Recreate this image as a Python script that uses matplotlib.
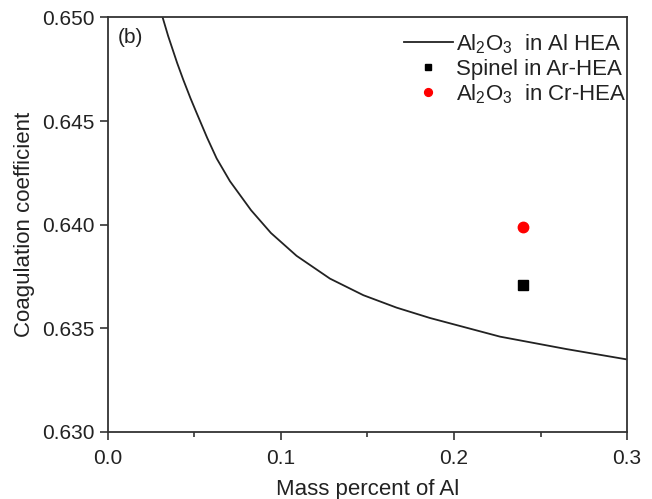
import matplotlib
matplotlib.use("Agg")
import matplotlib.pyplot as plt
from matplotlib.ticker import MultipleLocator

plt.rcParams['font.family'] = ['Liberation Sans', 'DejaVu Sans']
plt.rcParams['mathtext.fontset'] = 'custom'
plt.rcParams['mathtext.rm'] = 'Liberation Sans'

# curve: Al2O3 in Al HEA
x_curve = [0.0316, 0.0348, 0.0400, 0.0435, 0.0477, 0.0512, 0.0573, 0.0628, 0.0705,
           0.0827, 0.0942, 0.109, 0.1283, 0.1476, 0.1668, 0.1861, 0.2266, 0.265, 0.300]
y_curve = [0.6500, 0.6491, 0.6478, 0.6470, 0.6461, 0.6454, 0.6442, 0.6432, 0.6421,
           0.6407, 0.6396, 0.6385, 0.6374, 0.6366, 0.6360, 0.6355, 0.6346, 0.6340, 0.6335]

# single points
x_spinel = [0.240]
y_spinel = [0.6371]
x_cr = [0.240]
y_cr = [0.6399]

fig = plt.figure(figsize=(6.52, 4.99), dpi=100)
ax = fig.add_axes([0.1656, 0.1343, 0.7961, 0.8307])

ax.plot(x_curve, y_curve, color='#222222', lw=1.3,
        label=r'$\mathrm{Al_2O_3}$  in Al HEA')
ax.plot(x_spinel, y_spinel, 's', color='black', ms=6.5, ls='none',
        label='Spinel in Ar-HEA')
ax.plot(x_cr, y_cr, 'o', color='red', ms=7.5, ls='none',
        label=r'$\mathrm{Al_2O_3}$  in Cr-HEA')

ax.set_xlim(0, 0.3)
ax.set_ylim(0.630, 0.650)
ax.xaxis.set_major_locator(MultipleLocator(0.1))
ax.xaxis.set_minor_locator(MultipleLocator(0.05))
ax.yaxis.set_major_locator(MultipleLocator(0.005))
ax.xaxis.set_major_formatter(plt.FormatStrFormatter('%.1f'))
ax.yaxis.set_major_formatter(plt.FormatStrFormatter('%.3f'))
ax.tick_params(axis='both', which='major', direction='out', length=6, width=1.2,
               labelsize=15, colors='#333333', labelcolor='#222222')
ax.tick_params(axis='x', which='major', pad=6)
ax.tick_params(axis='x', which='minor', direction='out', length=3.5, width=1.2,
               colors='#333333')
for s in ax.spines.values():
    s.set_linewidth(1.3)
    s.set_color('#333333')

ax.set_xlabel('Mass percent of Al', fontsize=16, color='#222222', labelpad=8)
ax.set_ylabel('Coagulation coefficient', fontsize=16, color='#222222', labelpad=5)

ax.text(0.018, 0.975, '(b)', transform=ax.transAxes, fontsize=15,
        va='top', ha='left', color='#222222')

ax.legend(loc='upper right', bbox_to_anchor=(1.008, 0.975), frameon=False,
          fontsize=16, handlelength=2.2, handletextpad=0.15, labelspacing=0.12,
          borderaxespad=0.0, borderpad=0.2, markerscale=0.75, labelcolor='#222222')

fig.savefig('out.png', dpi=100)
